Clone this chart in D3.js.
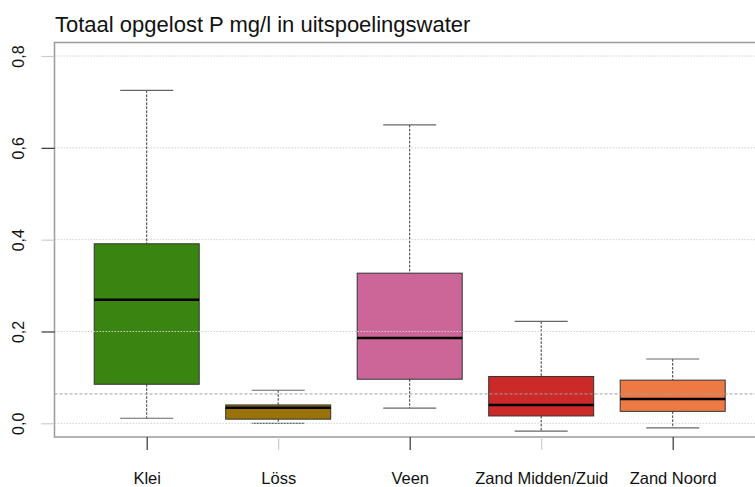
<!DOCTYPE html>
<html>
<head>
<meta charset="utf-8">
<script src="https://cdn.jsdelivr.net/npm/d3@7"></script>
<style>
  html, body { margin: 0; padding: 0; background: #fff; }
  svg { display: block; font-family: "Liberation Sans", Arial, Helvetica, sans-serif; }
</style>
</head>
<body>
<svg id="chart" width="755" height="487"></svg>
<script>
const title = "Totaal opgelost P mg/l in uitspoelingswater";
const categories = ["Klei", "Löss", "Veen", "Zand Midden/Zuid", "Zand Noord"];
const lowerWhisker = [0.011, 0.000, 0.033, -0.017, -0.010];
const q1Values = [0.085, 0.009, 0.096, 0.016, 0.026];
const medianValues = [0.269, 0.034, 0.186, 0.040, 0.053];
const q3Values = [0.391, 0.040, 0.327, 0.102, 0.094];
const upperWhisker = [0.725, 0.072, 0.650, 0.222, 0.140];
const yTicks = [0, 0.2, 0.4, 0.6, 0.8];
const yTickLabels = ["0,0", "0,2", "0,4", "0,6", "0,8"];
const referenceValue = 0.064;
const fillColors = ["#3a8512", "#9a720a", "#cc6699", "#cc2929", "#ee7a43"];

const svg = d3.select("#chart");
const plot = { left: 54.5, top: 42.5, right: 770, bottom: 437 };

const y = d3.scaleLinear().domain([0, 0.8]).range([423.3, 56]);
const x = d3.scalePoint().domain(categories).range([146.7, 672.7]);
const boxHalf = 52.5, capHalf = 26.5;

const rows = categories.map((c, i) => ({
  cat: c, lo: lowerWhisker[i], q1: q1Values[i], med: medianValues[i],
  q3: q3Values[i], hi: upperWhisker[i], fill: fillColors[i], i
}));

// whiskers (dashed)
const g = svg.append("g");
rows.forEach(d => {
  const cx = x(d.cat);
  g.append("line").attr("x1", cx).attr("x2", cx).attr("y1", y(d.hi)).attr("y2", y(d.q3))
    .attr("stroke", "#333").attr("stroke-width", 1).attr("stroke-dasharray", "2.5,1.5");
  g.append("line").attr("x1", cx).attr("x2", cx).attr("y1", y(d.q1)).attr("y2", y(d.lo))
    .attr("stroke", "#333").attr("stroke-width", 1).attr("stroke-dasharray", "2.5,1.5");
  g.append("line").attr("x1", cx - capHalf).attr("x2", cx + capHalf).attr("y1", y(d.hi)).attr("y2", y(d.hi))
    .attr("stroke", "#666").attr("stroke-width", 1.2);
  g.append("line").attr("x1", cx - capHalf).attr("x2", cx + capHalf).attr("y1", y(d.lo)).attr("y2", y(d.lo))
    .attr("stroke", "#666").attr("stroke-width", 1.2);
});

// boxes
g.selectAll("rect.box").data(rows).join("rect").attr("class", "box")
  .attr("x", d => x(d.cat) - boxHalf).attr("width", boxHalf * 2)
  .attr("y", d => y(d.q3)).attr("height", d => y(d.q1) - y(d.q3))
  .attr("fill", d => d.fill).attr("stroke", "#333").attr("stroke-width", 1);

// medians
g.selectAll("line.med").data(rows).join("line").attr("class", "med")
  .attr("x1", d => x(d.cat) - boxHalf).attr("x2", d => x(d.cat) + boxHalf)
  .attr("y1", d => y(d.med)).attr("y2", d => y(d.med))
  .attr("stroke", "#000").attr("stroke-width", 2.5);

// horizontal grid (drawn over boxes)
svg.append("g").selectAll("line").data(yTicks).join("line")
  .attr("x1", plot.left).attr("x2", plot.right)
  .attr("y1", d => y(d)).attr("y2", d => y(d))
  .attr("stroke", "#d0d0d0").attr("stroke-width", 1).attr("stroke-dasharray", "1.5,1.5");

// reference line
svg.append("line")
  .attr("x1", plot.left).attr("x2", plot.right)
  .attr("y1", y(referenceValue)).attr("y2", y(referenceValue))
  .attr("stroke", "#a0a0a0").attr("stroke-width", 1).attr("stroke-dasharray", "3,2");

// frame
svg.append("rect").attr("x", plot.left).attr("y", plot.top)
  .attr("width", plot.right - plot.left).attr("height", plot.bottom - plot.top)
  .attr("fill", "none").attr("stroke", "#9a9a9a").attr("stroke-width", 1.5);

// y axis
const yAxis = d3.axisLeft(y).tickValues(yTicks).tickSize(13).tickPadding(0)
  .tickFormat((d, i) => yTickLabels[i]);
const ya = svg.append("g").attr("transform", `translate(${plot.left},0)`).call(yAxis);
ya.select(".domain").remove();
ya.selectAll(".tick line").attr("stroke", (d, i) => i % 2 ? "#333" : "#ccc").attr("stroke-width", 1.2);
ya.selectAll(".tick text")
  .attr("x", null).attr("dy", null)
  .attr("transform", "translate(-31,0) rotate(-90)")
  .attr("text-anchor", "middle")
  .style("font-size", "16px").attr("font-family", "Liberation Sans, Arial, sans-serif").attr("fill", "#111");

// x axis
const xAxis = d3.axisBottom(x).tickSize(13).tickPadding(0);
const xa = svg.append("g").attr("transform", `translate(0,${plot.bottom})`).call(xAxis);
xa.select(".domain").remove();
xa.selectAll(".tick line").attr("stroke", (d, i) => i % 2 ? "#ccc" : "#333").attr("stroke-width", 1.2);
xa.selectAll(".tick text").attr("y", 47).attr("dy", null)
  .style("font-size", "16.5px").attr("font-family", "Liberation Sans, Arial, sans-serif").attr("fill", "#111");

// title
svg.append("text").attr("x", 55).attr("y", 31.5).text(title)
  .style("font-size", "22px").attr("fill", "#111");
</script>
</body>
</html>
